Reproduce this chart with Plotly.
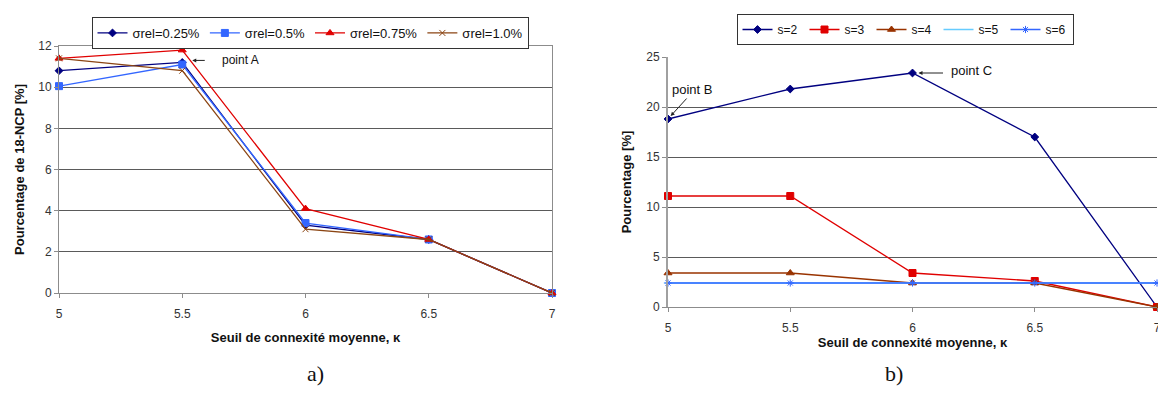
import plotly.graph_objects as go

# seuil de connexite moyenne (kappa)
kappa = [5, 5.5, 6, 6.5, 7]

# panel a) : pourcentage de 18-NCP, par sigma rel
sig_025 = [10.8, 11.2, 3.3, 2.6, 0.0]
sig_050 = [10.05, 11.1, 3.4, 2.6, 0.0]
sig_075 = [11.4, 11.8, 4.1, 2.6, 0.0]
sig_100 = [11.4, 10.8, 3.1, 2.6, 0.0]

# panel b) : pourcentage, par s
s2 = [18.8, 21.8, 23.4, 17.0, 0.0]
s3 = [11.1, 11.1, 3.4, 2.6, 0.0]
s4 = [3.4, 3.4, 2.4, 2.4, 0.0]
s5 = [2.4, 2.4, 2.4, 2.4, 2.4]
s6 = [2.4, 2.4, 2.4, 2.4, 2.4]

xticks = [5, 5.5, 6, 6.5, 7]
yticks_a = [0, 2, 4, 6, 8, 10, 12]
yticks_b = [0, 5, 10, 15, 20, 25]

NAVY = "#000080"
BLUE = "#3366FF"
RED = "#E00000"
BROWN = "#8B4513"
BROWN2 = "#993300"
CYAN = "#66CCFF"
FONT = "Liberation Sans, Arial, sans-serif"

# the page body has an 8px margin, so the figure is drawn 8px in
W, H = 1158, 390

fig = go.Figure()


def add(x, y, name, color, symbol, size, xa, ya, legend, width=1.3):
    fig.add_trace(go.Scatter(
        x=x, y=y, name=name, mode="lines+markers",
        line=dict(color=color, width=width),
        marker=dict(symbol=symbol, size=size, color=color,
                    line=dict(color=color, width=1)),
        xaxis=xa, yaxis=ya, legend=legend, cliponaxis=False,
    ))


add(kappa, sig_025, "σrel=0.25%", NAVY, "diamond", 6, "x", "y", "legend")
add(kappa, sig_050, "σrel=0.5%", BLUE, "square", 7, "x", "y", "legend")
add(kappa, sig_075, "σrel=0.75%", RED, "triangle-up", 7, "x", "y", "legend")
add(kappa, sig_100, "σrel=1.0%", BROWN, "x-thin", 6, "x", "y", "legend")

add(kappa, s2, "s=2", NAVY, "diamond", 6, "x2", "y2", "legend2")
add(kappa, s3, "s=3", RED, "square", 7, "x2", "y2", "legend2")
add(kappa, s4, "s=4", BROWN2, "triangle-up", 7, "x2", "y2", "legend2")
add(kappa, s5, "s=5", CYAN, "line-ew", 6, "x2", "y2", "legend2")
add(kappa, s6, "s=6", BLUE, "asterisk", 6, "x2", "y2", "legend2")

axis_common = dict(
    showline=True, linecolor="#8c8c8c", linewidth=1,
    ticks="outside", ticklen=4, tickcolor="#8c8c8c",
    tickfont=dict(family=FONT, size=12, color="#333333"),
    zeroline=False, automargin=False,
)
title_font = dict(family=FONT, size=13, color="#111111")

fig.update_layout(
    width=W, height=H,
    margin=dict(l=0, r=0, t=0, b=0, autoexpand=False),
    paper_bgcolor="white", plot_bgcolor="white",
    font=dict(family=FONT, size=12, color="#222222"),
    xaxis=dict(axis_common, domain=[51 / W, 544 / W], range=[5, 7],
               tickvals=xticks, ticktext=[str(t) for t in xticks],
               showgrid=False, mirror=True, anchor="y", ticklabelstandoff=6,
               title=dict(text="<b>Seuil de connexité moyenne, κ</b>",
                          font=title_font, standoff=12)),
    yaxis=dict(axis_common, domain=[105 / H, 352 / H], range=[0, 12],
               tickvals=yticks_a, showgrid=True, gridcolor="#5a5a5a",
               gridwidth=1, mirror=True, anchor="x",
               title=dict(text="<b>Pourcentage de 18-NCP [%]</b>",
                          font=title_font, standoff=10)),
    xaxis2=dict(axis_common, domain=[660 / W, 1149 / W], range=[5, 7],
                tickvals=xticks, ticktext=[str(t) for t in xticks],
                showgrid=False, anchor="y2", ticklabelstandoff=6,
                title=dict(text="<b>Seuil de connexité moyenne, κ</b>",
                           font=title_font, standoff=2)),
    yaxis2=dict(axis_common, domain=[91 / H, 341 / H], range=[0, 25],
                tickvals=yticks_b, showgrid=True, gridcolor="#5a5a5a",
                gridwidth=1, linewidth=2, linecolor="#a0a0a0", anchor="x2",
                title=dict(text="<b>Pourcentage [%]</b>",
                           font=title_font, standoff=12)),
    legend=dict(orientation="h", x=302 / W, xanchor="center",
                y=1 - 9 / H, yanchor="top", bgcolor="white",
                bordercolor="#333333", borderwidth=1, itemwidth=30,
                font=dict(family=FONT, size=13, color="#111111"),
                tracegroupgap=0),
    legend2=dict(orientation="h", x=897 / W, xanchor="center",
                 y=1 - 6 / H, yanchor="top", bgcolor="white",
                 bordercolor="#333333", borderwidth=1, itemwidth=30,
                 entrywidth=22,
                 font=dict(family=FONT, size=12, color="#111111")),
    showlegend=True,
)

arrow = dict(showarrow=True, arrowhead=2, arrowsize=0.8, arrowwidth=1,
             arrowcolor="#222222", text="", axref="pixel", ayref="pixel")
label_font = dict(family=FONT, size=12, color="#111111")

# point A
fig.add_annotation(arrow, x=kappa[1], y=sig_025[1] + 0.1, xref="x", yref="y",
                   ax=24, ay=0, standoff=10)
fig.add_annotation(x=kappa[1], y=sig_025[1] + 0.1, xref="x", yref="y",
                   text="point A", showarrow=False, xanchor="left",
                   xshift=38, font=label_font)
# point B
fig.add_annotation(arrow, x=kappa[0], y=s2[0], xref="x2", yref="y2",
                   ax=20, ay=-22, standoff=4)
fig.add_annotation(x=kappa[0], y=s2[0], xref="x2", yref="y2",
                   text="point B", showarrow=False, xanchor="left",
                   xshift=2, yshift=30, font=dict(label_font, size=13))
# point C
fig.add_annotation(arrow, x=kappa[2], y=s2[2], xref="x2", yref="y2",
                   ax=32, ay=0, standoff=6)
fig.add_annotation(x=kappa[2], y=s2[2], xref="x2", yref="y2",
                   text="point C", showarrow=False, xanchor="left",
                   xshift=36, yshift=3, font=dict(label_font, size=13))

# captions a) b)
for cx, txt in [(297, "a)"), (897, "b)")]:
    fig.add_annotation(x=cx / W, y=1 - 380 / H, xref="paper", yref="paper",
                       text=txt, showarrow=False,
                       font=dict(family="Liberation Serif, DejaVu Serif, serif",
                                 size=22, color="#111111"))

fig.write_html("out.html")
